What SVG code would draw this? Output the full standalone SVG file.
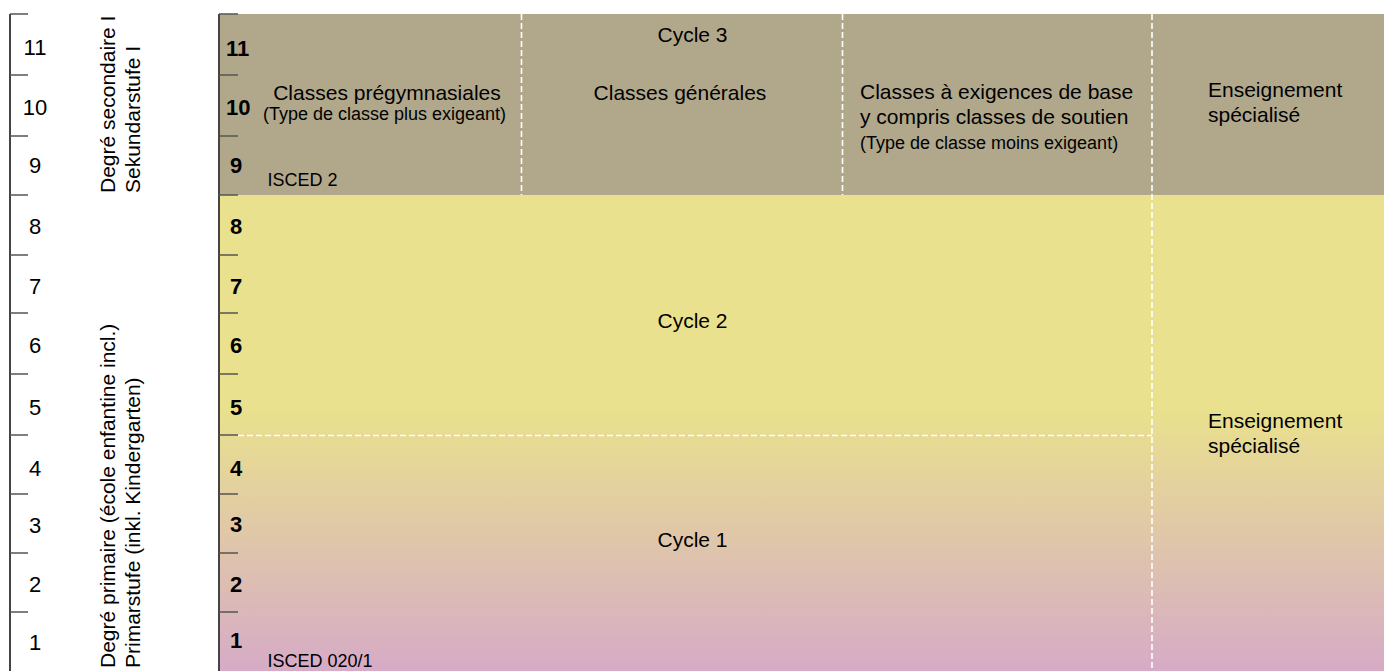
<svg xmlns="http://www.w3.org/2000/svg" width="1384" height="671" viewBox="0 0 1384 671">
<style>
text{font-family:"Liberation Sans",Arial,sans-serif;fill:#000}
.lbl{font-size:21px}
.sm{font-size:18px}
.isc{font-size:18px}
.num{font-size:22px;text-anchor:middle}
.bn{font-size:22px;font-weight:bold}
.mid{text-anchor:middle}
.axis{stroke:#444;stroke-width:2;fill:none}
.tick{stroke:#555;stroke-width:1.5;fill:none}
.dash{stroke:#fff;stroke-width:1.6;stroke-dasharray:6 3;fill:none}
</style>
<defs>
<linearGradient id="g" x1="0" y1="195" x2="0" y2="671" gradientUnits="userSpaceOnUse">
<stop offset="0" stop-color="#e9e18d"/>
<stop offset="0.45" stop-color="#e9e18d"/>
<stop offset="1" stop-color="#d6abc6"/>
</linearGradient>
</defs>
<rect width="1384" height="671" fill="#fff"/>

<g id="scale">
<line class="axis" x1="10" y1="14" x2="10" y2="671"/>
<g class="tick">
<line x1="10" y1="14" x2="28" y2="14"/><line x1="10" y1="75" x2="28" y2="75"/><line x1="10" y1="136" x2="28" y2="136"/><line x1="10" y1="195" x2="28" y2="195"/><line x1="10" y1="255" x2="28" y2="255"/><line x1="10" y1="313" x2="28" y2="313"/><line x1="10" y1="374" x2="28" y2="374"/><line x1="10" y1="435" x2="28" y2="435"/><line x1="10" y1="494" x2="28" y2="494"/><line x1="10" y1="553" x2="28" y2="553"/><line x1="10" y1="612" x2="28" y2="612"/>
</g>
<text class="num" x="35" y="55">11</text><text class="num" x="35" y="115">10</text><text class="num" x="35" y="173">9</text><text class="num" x="35" y="234">8</text><text class="num" x="35" y="294">7</text><text class="num" x="35" y="353">6</text><text class="num" x="35" y="415">5</text><text class="num" x="35" y="476">4</text><text class="num" x="35" y="533">3</text><text class="num" x="35" y="592">2</text><text class="num" x="35" y="650">1</text>
</g>

<g id="level-secondary">
<text class="lbl" transform="translate(115,193) rotate(-90)">Degré secondaire I</text>
<text class="lbl" transform="translate(140,193) rotate(-90)">Sekundarstufe I</text>
</g>
<g id="level-primary">
<text class="lbl" transform="translate(115,668) rotate(-90)">Degré primaire (école enfantine incl.)</text>
<text class="lbl" transform="translate(140,668) rotate(-90)">Primarstufe (inkl. Kindergarten)</text>
</g>

<g id="cycle3">
<rect x="219" y="14" width="1165" height="181" fill="#b1a88c"/>
<text class="lbl mid" x="692.5" y="41.5">Cycle 3</text>
</g>
<g id="cycles12">
<rect x="219" y="195" width="1165" height="476" fill="url(#g)"/>
</g>

<g id="connectors">
<line class="dash" x1="521.5" y1="14" x2="521.5" y2="195"/>
<line class="dash" x1="842.5" y1="14" x2="842.5" y2="195"/>
<line class="dash" x1="1152" y1="14" x2="1152" y2="671"/>
<line class="dash" x1="238" y1="435.5" x2="1152" y2="435.5"/>
</g>

<g id="pregymnasiales">
<text class="lbl mid" x="387" y="100">Classes prégymnasiales</text>
<text class="sm mid" x="384.5" y="120">(Type de classe plus exigeant)</text>
<text class="isc" x="267.5" y="186">ISCED 2</text>
</g>
<g id="generales">
<text class="lbl mid" x="680" y="100">Classes générales</text>
</g>
<g id="exigences-base">
<text class="lbl" x="860" y="99">Classes à exigences de base</text>
<text class="lbl" x="860" y="123.5">y compris classes de soutien</text>
<text class="sm" x="860" y="149">(Type de classe moins exigeant)</text>
</g>
<g id="special-top">
<text class="lbl" x="1208" y="96.5">Enseignement</text>
<text class="lbl" x="1208" y="121.5">spécialisé</text>
</g>
<g id="cycle2">
<text class="lbl mid" x="692.5" y="328">Cycle 2</text>
</g>
<g id="cycle1">
<text class="lbl mid" x="692.5" y="547">Cycle 1</text>
<text class="isc" x="267.5" y="666.5">ISCED 020/1</text>
</g>
<g id="special-bottom">
<text class="lbl" x="1208" y="427.5">Enseignement</text>
<text class="lbl" x="1208" y="452.5">spécialisé</text>
</g>

<g id="grades">
<line class="axis" x1="219" y1="14" x2="219" y2="671"/>
<g class="tick">
<line x1="219" y1="14" x2="238" y2="14"/><line x1="219" y1="75" x2="238" y2="75"/><line x1="219" y1="136" x2="238" y2="136"/><line x1="219" y1="195" x2="238" y2="195"/><line x1="219" y1="255" x2="238" y2="255"/><line x1="219" y1="313" x2="238" y2="313"/><line x1="219" y1="374" x2="238" y2="374"/><line x1="219" y1="435" x2="238" y2="435"/><line x1="219" y1="494" x2="238" y2="494"/><line x1="219" y1="553" x2="238" y2="553"/><line x1="219" y1="612" x2="238" y2="612"/>
</g>
<text class="bn" x="226" y="56">11</text><text class="bn" x="226" y="115">10</text><text class="bn" x="230" y="173">9</text><text class="bn" x="230" y="234">8</text><text class="bn" x="230" y="294">7</text><text class="bn" x="230" y="353">6</text><text class="bn" x="230" y="415">5</text><text class="bn" x="230" y="476">4</text><text class="bn" x="230" y="532">3</text><text class="bn" x="230" y="592">2</text><text class="bn" x="230" y="648">1</text>
</g>
</svg>
